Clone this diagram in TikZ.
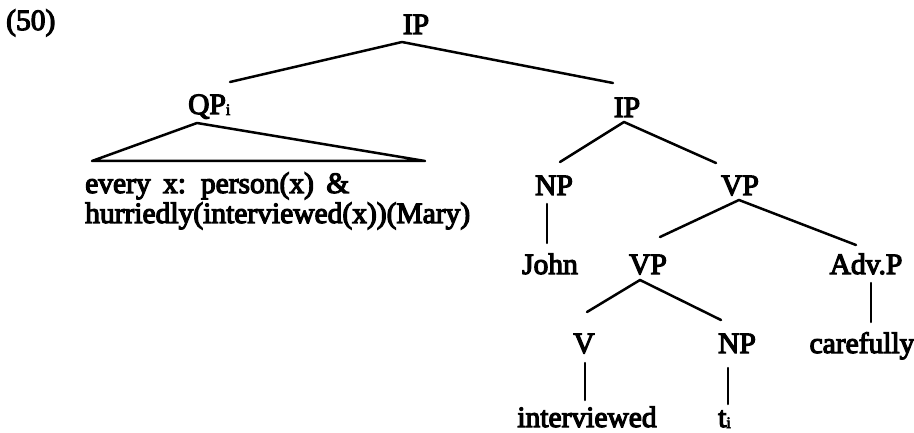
\documentclass[tikz,border=0pt]{standalone}
\usepackage{fontspec}
\setmainfont{Liberation Serif}
\newfontfamily\treeface{Liberation Serif}[FakeBold=4]
\newcommand{\treefont}{\treeface\fontsize{29.5}{35}\selectfont}
\newcommand{\idx}{\raisebox{-1pt}{\fontsize{16}{16}\selectfont i}}
\begin{document}
\begin{tikzpicture}[x=1pt,y=-1pt,
  lab/.style={inner sep=0pt, anchor=base, font=\treefont},
  branch/.style={line width=2.5pt, line cap=round, line join=round}]
\useasboundingbox (0,0) rectangle (914,433);

% example number
\node[lab, anchor=base west] (num) at (6,30) {(50)};

% labels, row by row
\node[lab] (ip0) at (416,34) {IP};
\node[lab, anchor=base west] (qp) at (188,114) {QP\idx};
\node[lab] (ip1) at (627,117) {IP};
\node[lab, anchor=base west] (sem1) at (85,193) {\spaceskip=0.42em every x: person(x) \&};
\node[lab, anchor=base west] (sem2) at (85,223) {hurriedly(interviewed(x))(Mary)};
\node[lab] (np1) at (554,195) {NP};
\node[lab] (vp1) at (740,195) {VP};
\node[lab] (john) at (550,274) {John};
\node[lab] (vp2) at (648,274) {VP};
\node[lab] (advp) at (866,274) {Adv.P};
\node[lab] (v) at (584,353) {V};
\node[lab] (np2) at (737,353) {NP};
\node[lab] (adv) at (862,353) {carefully};
\node[lab] (verb) at (587,427) {interviewed};
\node[lab, anchor=base west] (trace) at (718,427) {t\idx};

% branch end points
\coordinate (ip0-top) at (402,42);
\coordinate (qp-up)   at (230,82);
\coordinate (ip1-up)  at (613,83);
\coordinate (qp-top)  at (197,123);
\coordinate (tri-l)   at (92,161);
\coordinate (tri-r)   at (425,161);
\coordinate (ip1-top) at (624,122);
\coordinate (np1-up)  at (560,162);
\coordinate (vp1-up)  at (716,163);
\coordinate (np1-bot) at (547,204);
\coordinate (john-up) at (547,243);
\coordinate (vp1-top) at (739,200);
\coordinate (vp2-up)  at (660,237);
\coordinate (advp-up) at (856,245);
\coordinate (vp2-top) at (640,280);
\coordinate (v-up)    at (587,312);
\coordinate (np2-up)  at (721,320);
\coordinate (advp-bot) at (871,283);
\coordinate (adv-up)  at (871,322);
\coordinate (v-bot)   at (585,363);
\coordinate (verb-up) at (585,400);
\coordinate (np2-bot) at (728,368);
\coordinate (trace-up) at (728,404);

% branches
\draw[branch] (qp-up) -- (ip0-top) -- (ip1-up);
\draw[branch] (qp-top) -- (tri-l) -- (tri-r) -- cycle;
\draw[branch] (np1-up) -- (ip1-top) -- (vp1-up);
\draw[branch] (np1-bot) -- (john-up);
\draw[branch] (vp2-up) -- (vp1-top) -- (advp-up);
\draw[branch] (v-up) -- (vp2-top) -- (np2-up);
\draw[branch] (advp-bot) -- (adv-up);
\draw[branch] (v-bot) -- (verb-up);
\draw[branch] (np2-bot) -- (trace-up);
\end{tikzpicture}
\end{document}
